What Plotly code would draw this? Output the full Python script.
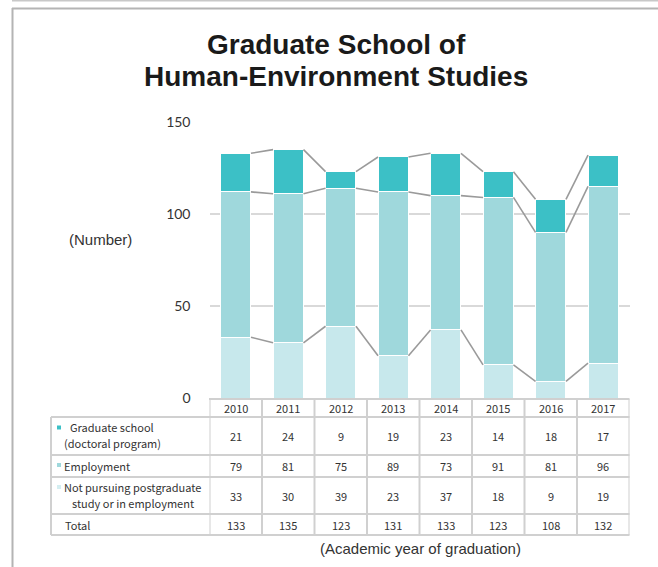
import plotly.graph_objects as go

years = ["2010", "2011", "2012", "2013", "2014", "2015", "2016", "2017"]
grad_school = [21, 24, 9, 19, 23, 14, 18, 17]
employment = [79, 81, 75, 89, 73, 91, 81, 96]
not_pursuing = [33, 30, 39, 23, 37, 18, 9, 19]
totals = [133, 135, 123, 131, 133, 123, 108, 132]

W, H = 658, 567
BAR_W = 0.58
C_TOP, C_MID, C_LOW = "#3cc0c6", "#9fd8dc", "#c7e8ec"
LINE_C = "#d0d0d0"


def fx(x):
    return x / W


def fy(y):
    return 1 - y / H


xs = list(range(len(years)))
fig = go.Figure()

# stacked bars, bottom to top
for vals, col, name in [(not_pursuing, C_LOW, "Not pursuing"),
                        (employment, C_MID, "Employment"),
                        (grad_school, C_TOP, "Graduate school")]:
    fig.add_trace(go.Bar(x=xs, y=vals, width=BAR_W, name=name,
                         marker=dict(color=col, line=dict(color="white", width=1))))

# series lines between the bars
lvl1 = not_pursuing
lvl2 = [a + b for a, b in zip(not_pursuing, employment)]
lvl3 = [a + b + c for a, b, c in zip(not_pursuing, employment, grad_school)]
for lvl in (lvl1, lvl2, lvl3):
    lx, ly = [], []
    for i in range(len(xs) - 1):
        lx += [xs[i] + BAR_W / 2, xs[i + 1] - BAR_W / 2, None]
        ly += [lvl[i], lvl[i + 1], None]
    fig.add_trace(go.Scatter(x=lx, y=ly, mode="lines", hoverinfo="skip",
                             line=dict(color="#9a9a9a", width=1.6)))

shapes = []
# outer frame
shapes.append(dict(type="line", xref="paper", yref="paper", x0=fx(12), x1=1, y0=fy(0.7), y1=fy(0.7),
                   line=dict(color="#c8c8c8", width=1.5)))
shapes.append(dict(type="line", xref="paper", yref="paper", x0=fx(12), x1=1, y0=fy(8.5), y1=fy(8.5),
                   line=dict(color="#b4b4b4", width=2)))
shapes.append(dict(type="line", xref="paper", yref="paper", x0=fx(12.5), x1=fx(12.5), y0=fy(8), y1=0,
                   line=dict(color="#b4b4b4", width=2)))

# table grid
row_edges = [399, 417, 455, 477, 514, 535]
for k, y in enumerate(row_edges):
    x0 = 209 if k == 0 else 51
    shapes.append(dict(type="line", xref="paper", yref="paper", x0=fx(x0), x1=fx(629.5), y0=fy(y), y1=fy(y),
                       line=dict(color=LINE_C, width=2)))
shapes.append(dict(type="line", xref="paper", yref="paper", x0=fx(51), x1=fx(51), y0=fy(417), y1=fy(535),
                   line=dict(color=LINE_C, width=2)))
for k in range(len(years) + 1):
    shapes.append(dict(type="line", xref="x", yref="paper", x0=k - 0.5, x1=k - 0.5, y0=fy(399), y1=fy(535),
                       line=dict(color=LINE_C, width=2)))

# legend squares in the row labels
for yc, col in [(427.5, C_TOP), (465, C_MID), (487, "#d4eef1")]:
    shapes.append(dict(type="rect", xref="paper", yref="paper", x0=fx(57), x1=fx(61), y0=fy(yc - 2), y1=fy(yc + 2),
                       fillcolor=col, line=dict(width=0)))

ann = []
title_font = dict(family="Liberation Sans, Arial", size=28, color="#1a1a1a")
for txt, ty in [("<b>Graduate School of</b>", 45), ("<b>Human-Environment Studies</b>", 77)]:
    ann.append(dict(text=txt, x=fx(336), y=fy(ty), xref="paper", yref="paper", showarrow=False,
                    font=title_font, xanchor="center", yanchor="middle"))
ann.append(dict(text="(Number)", x=fx(67), y=fy(239), xref="paper", yref="paper", showarrow=False,
                xanchor="left", yanchor="middle", font=dict(family="Liberation Sans, Arial", size=15, color="#333")))
ann.append(dict(text="(Academic year of graduation)", x=fx(420), y=fy(548), xref="paper", yref="paper",
                showarrow=False, xanchor="center", yanchor="middle",
                font=dict(family="Liberation Sans, Arial", size=15, color="#333")))

tfont = dict(family="Noto Sans CJK JP", size=11, color="#333")
row_vals = [(408, years), (436, grad_school), (466, employment), (495.5, not_pursuing), (524.5, totals)]
for yc, vals in row_vals:
    for i, v in enumerate(vals):
        ann.append(dict(text=str(v), x=xs[i], y=fy(yc), xref="x", yref="paper", showarrow=False,
                        font=tfont, xanchor="center", yanchor="middle"))

labels = [("Graduate school", 68, 427), ("(doctoral program)", 62, 443), ("Employment", 62, 466),
          ("Not pursuing postgraduate", 62, 487), ("study or in employment", 70, 503), ("Total", 63, 525)]
for txt, lx, ly in labels:
    ann.append(dict(text=txt, x=fx(lx), y=fy(ly), xref="paper", yref="paper", showarrow=False,
                    font=tfont, xanchor="left", yanchor="middle"))

fig.update_layout(
    width=W, height=H, margin=dict(l=0, r=0, t=0, b=0),
    paper_bgcolor="white", plot_bgcolor="white",
    barmode="stack", showlegend=False,
    shapes=shapes, annotations=ann,
    font=dict(family="Lato, Noto Sans", color="#333"),
)
fig.update_xaxes(domain=[fx(209.5), fx(629.5)], range=[-0.5, len(years) - 0.5], automargin=False,
                 showticklabels=False, showgrid=False, zeroline=False, showline=False)
fig.update_yaxes(domain=[fy(398), fy(122)], range=[0, 150], tickvals=[0, 50, 100, 150], automargin=False,
                 showgrid=True, gridcolor="#d9d9d9", gridwidth=2, zeroline=False, showline=False,
                 ticklabelstandoff=18, tickfont=dict(size=14, color="#333", family="Lato, Noto Sans"))

# the page body has a default margin; drop it so the figure sits at the window's corner
fig.write_html("out.html", config={"displayModeBar": False},
               post_script="document.body.style.margin='0';")
